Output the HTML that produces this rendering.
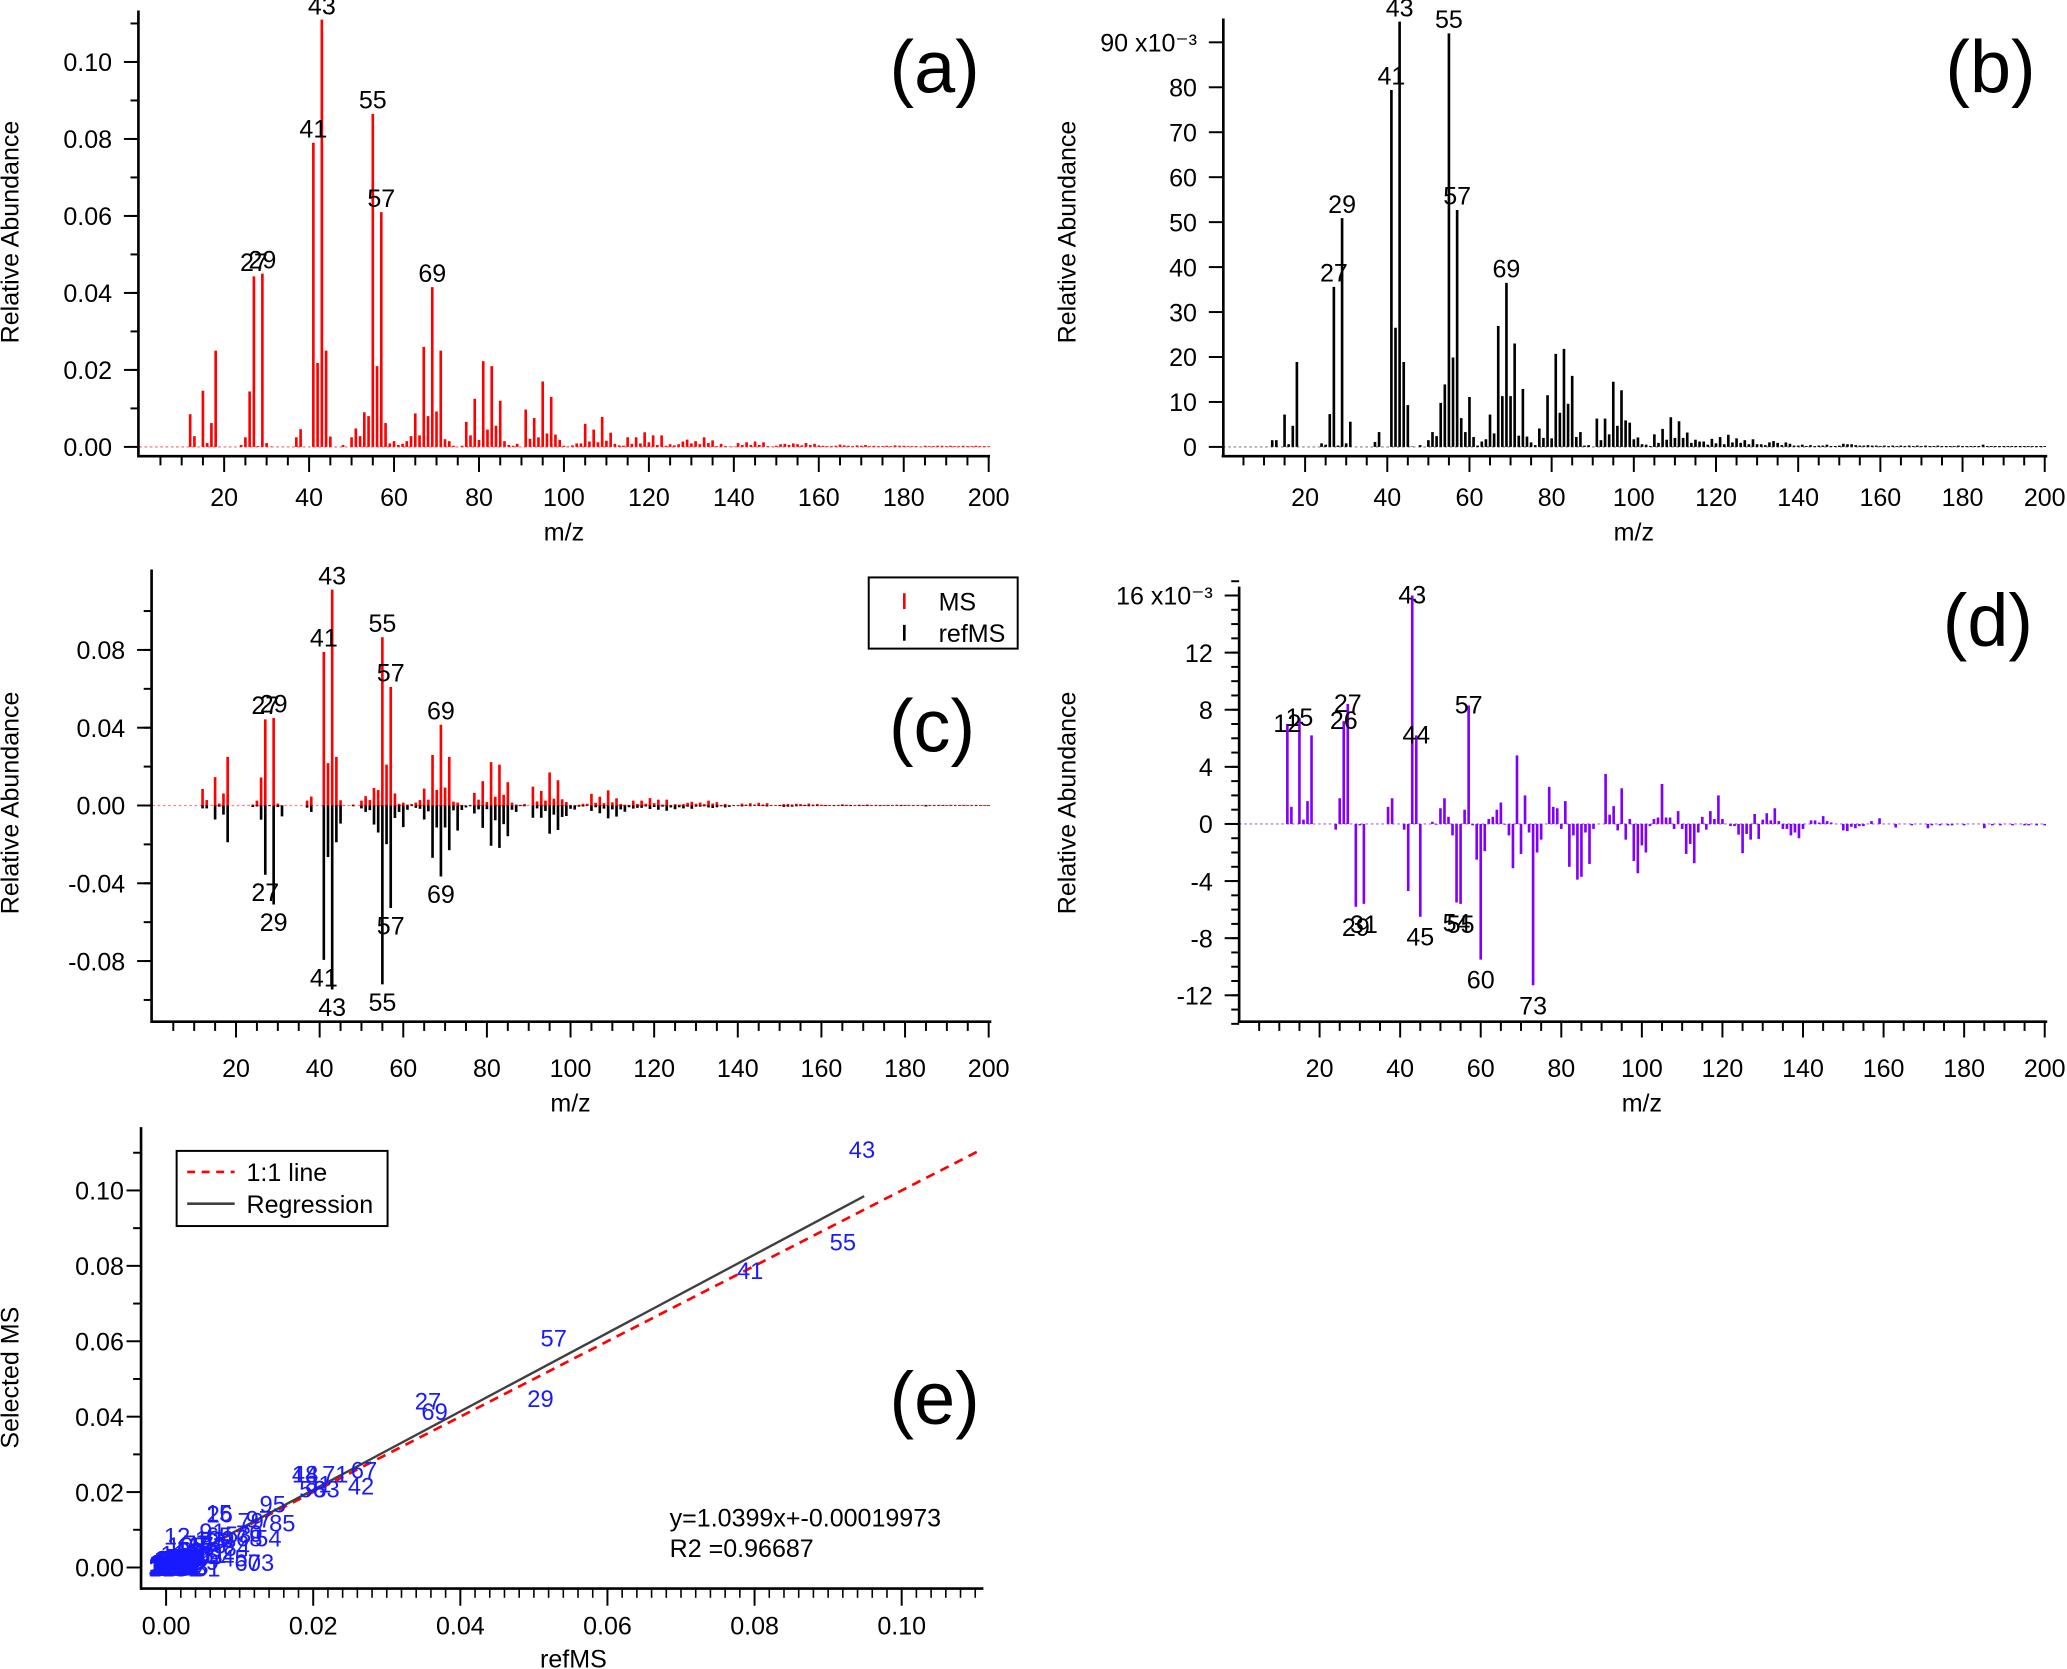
<!DOCTYPE html>
<html><head><meta charset="utf-8"><style>
html,body{margin:0;padding:0;background:#fff;}
svg{display:block;}
text{font-family:"Liberation Sans Narrow","Liberation Sans",sans-serif;}
.t{font-family:"Liberation Sans",sans-serif;}
</style></head><body>
<svg id="fig" width="2067" height="1669" viewBox="0 0 1568 1266" preserveAspectRatio="none" xmlns="http://www.w3.org/2000/svg"></svg>
<script>
// ---- data (x1e-3), m/z 12..200 ----
const mzStart = 12, mzEnd = 200;
const selMS = [8.5,2.8,0,14.6,1.0,6.2,25,0,0,0,
0,0,0.5,2.5,14.4,44.3,0.2,45,1.0,0.1,
0,0,0,0,0,2.5,4.6,0,0,79,
21.8,111,25,2.7,0,0,0.5,0,2.5,4.8,
2.8,9.0,8.0,86.5,21,61,6.2,0.9,1.5,0.5,
0.8,1.5,2.8,8.7,3.0,26,8.0,41.5,9.2,25,
2.0,1.5,0.3,0,0.3,6.5,3.0,12.5,1.8,22.3,
4.5,21,5.5,12,1.5,0.5,0.3,0.8,0,9.7,
2.1,7.5,2.5,17,3.5,13,3.2,1.8,0.3,0.1,
0.4,0.9,0.9,6,1.4,4.5,1.2,7.8,1.6,3.7,
0.8,0.4,0.3,2.5,0.8,2.5,0.9,3.8,1.2,3.0,
0.5,3.0,0.3,0.7,0.4,0.7,1.4,1.9,0.9,1.5,
0.7,2.5,1.0,1.7,0.2,0.8,0.2,0.1,0.1,1.0,
0.5,1.2,0.5,1.4,0.5,1.2,0.2,0.1,0.3,0.7,
0.8,0.5,0.9,0.7,0.4,1.0,0.5,0.8,0.4,0.3,
0.2,0.2,0.3,0.6,0.4,0.3,0.2,0.4,0.3,0.5,
0.2,0.3,0.2,0.2,0.3,0.2,0.4,0.3,0.3,0.2,
0.2,0.2,0.1,0.3,0.2,0.2,0.3,0.3,0.2,0.3,
0.2,0.2,0.3,0.2,0.2,0.3,0.2,0.2,0.2];
const refMS = [1.5,1.5,0,7.2,0.6,4.7,18.9,0,0,0,
0,0,0.8,0.5,7.3,35.6,0.3,50.9,0.8,5.6,
0,0,0,0,0,1.1,3.3,0,0,79.4,
26.5,94.6,18.9,9.3,0.1,0,0.4,0,1.5,3.3,
2.4,9.8,13.9,92,19.9,52.7,6.4,3.3,11.1,2.2,
0.3,1.2,1.7,7.2,3.0,26.9,11.3,36.5,11.3,23,
2.5,12.9,2.3,1.0,0.4,4.1,2.0,11.5,1.9,20.7,
7.6,21.8,9.6,15.8,2.2,3.3,0.3,0.4,0,6.3,
1.5,6.3,2.8,14.5,4.7,12.6,5.9,5.4,1.7,2.1,
0.6,0.5,0.2,2.8,0.9,4.0,1.6,6.6,2.0,5.7,
2.0,3.2,0.9,1.6,1.2,1.2,0.5,1.8,0.8,2.2,
0.6,2.7,1.0,1.9,0.9,1.5,0.6,1.7,0.6,0.6,
0.4,1.0,1.3,0.9,0.4,1.0,0.7,0.3,0.3,0.5,
0.2,0.4,0.2,0.3,0.3,0.5,0.2,0.2,0.3,0.7,
0.6,0.6,0.4,0.3,0.3,0.4,0.3,0.3,0.2,0.3,
0.2,0.3,0.2,0.3,0.2,0.3,0.2,0.3,0.2,0.3,
0.2,0.2,0.3,0.2,0.2,0.2,0.2,0.3,0.2,0.2,
0.2,0.2,0.2,0.5,0.2,0.2,0.2,0.2,0.2,0.2,
0.2,0.2,0.2,0.2,0.2,0.2,0.2,0.2,0.2];
const diffMS = [7.0,1.2,0,7.4,0.3,1.6,6.2,0,0,0,
0,0,-0.4,1.8,7.2,8.4,0,-5.8,-0.1,-5.6,
0,0,0,0,0,1.2,1.8,0,0,-0.4,
-4.7,16,6.2,-6.5,0,0,0.15,-0.05,1.1,1.8,
0.5,-0.8,-5.5,-5.6,1.0,8.3,-0.1,-2.5,-9.5,-1.9,
0.35,0.5,1.0,1.5,-0.05,-0.8,-3.1,4.8,-2.1,2.0,
-0.6,-11.3,-2.0,-1.1,0,2.6,1.2,1.1,-0.35,1.6,
-3.0,-0.8,-3.9,-3.7,-0.6,-2.8,-0.35,0,0,3.5,
0.65,1.25,-0.45,2.5,-1.1,0.35,-2.6,-3.45,-1.5,-2.0,
-0.15,0.35,0.45,2.8,0.45,0.45,-0.35,0.9,-0.35,-2.1,
-1.4,-2.75,-0.6,0.5,-0.4,0.9,0.35,2.0,0.35,0,
-0.15,-0.15,-0.75,-2.05,-0.7,-1.1,0.7,-1.05,0.3,0.75,
0.25,1.1,0.2,-0.35,-0.35,-0.8,-0.6,-1.0,-0.35,0,
0.25,0.25,0.1,0.55,0.2,0.1,0,0,-0.45,-0.5,
-0.2,-0.3,-0.15,-0.15,0,0.2,0,0.4,0,0,
0,-0.25,0,0,0,-0.1,0,0,0,-0.3,
-0.1,0,-0.1,0,-0.1,-0.1,0,0,-0.1,0,
0,0,0,-0.3,0,-0.1,0,-0.1,0,0,
-0.1,0,0,-0.1,-0.1,0,-0.1,0,-0.1];
const peakLabels = [27,29,41,43,55,57,69];
const diffPosLabels = [12,15,26,27,43,44,57];
const diffNegLabels = [29,31,45,54,55,60,73];
const xTickLabels = [20,40,60,80,100,120,140,160,180,200];
const yTicksA = ["0.00","0.02","0.04","0.06","0.08","0.10"];
const yTicksB = [0,10,20,30,40,50,60,70,80,90];
const yTicksC = ["-0.08","-0.04","0.00","0.04","0.08"];
const yTicksD = [-12,-8,-4,0,4,8,12,16];
const yTicksE = ["0.00","0.02","0.04","0.06","0.08","0.10"];
const xTicksE = ["0.00","0.02","0.04","0.06","0.08","0.10"];
const regSlope = 1.0399, regIntercept = -0.00019973;

const NS = "http://www.w3.org/2000/svg";
const svg = document.getElementById('fig');
function el(tag, attrs, parent, txt){
  const e = document.createElementNS(NS, tag);
  for (const k in attrs) e.setAttribute(k, attrs[k]);
  if (txt !== undefined) e.textContent = txt;
  (parent || svg).appendChild(e);
  return e;
}
function grp(name){
  const g = el('g', {});
  
  
  return g;
}
const mzs = [];
for (let m = mzStart; m <= mzEnd; m++) mzs.push(m);
function val(arr, m){ return arr[m - mzStart]; }

function xAxisMZ(g, X, yLine, xEnd, labY, titY){
  el('line', {x1:X(0)-1, y1:yLine, x2:xEnd, y2:yLine, stroke:'#000','stroke-width':2}, g);
  for (let m = 5; m <= 200; m += 5){
    const major = m % 20 === 0;
    el('line', {x1:X(m), y1:yLine, x2:X(m), y2:yLine + (major?12:7), stroke:'#000','stroke-width':1.5}, g);
  }
  xTickLabels.forEach(v=>{
    const t = el('text', {x:X(v), y:labY, 'font-size':19, 'text-anchor':'middle'}, g, String(v));
    
    
  });
  const tt = el('text', {x:X(100)+(xEnd>1000?0:0), y:titY, 'font-size':19, 'text-anchor':'middle'}, g, 'm/z');
  
  
}
function yAxis(g, xAxisX, yTop, yBot, ticks, Y, labels, minorStep, minorFrom, minorTo){
  el('line', {x1:xAxisX, y1:yTop, x2:xAxisX, y2:yBot, stroke:'#000','stroke-width':2}, g);
  if (minorStep){
    for (let v = minorFrom; v <= minorTo + 1e-9; v += minorStep){
      el('line', {x1:xAxisX-6, y1:Y(v), x2:xAxisX, y2:Y(v), stroke:'#000','stroke-width':1.5}, g);
    }
  }
  ticks.forEach((v,i)=>{
    el('line', {x1:xAxisX-11, y1:Y(v), x2:xAxisX, y2:Y(v), stroke:'#000','stroke-width':1.5}, g);
    const t = el('text', {x:xAxisX-20, y:Y(v)+7, 'font-size':19, 'text-anchor':'end'}, g, labels[i]);
    
    
  });
}
function yTitle(g, x, y, text){
  const t = el('text', {x:x, y:y, 'font-size':19, 'text-anchor':'middle', transform:`rotate(-90 ${x} ${y})`, class:'t'}, g, text);
  
  
}
function panelLetter(g, x, y, s){
  const t = el('text', {x:x, y:y, 'font-size':56, 'text-anchor':'middle', class:'t'}, g, s);
  
  
}
function bars(g, X, Y, arr, scale, color, sign){
  mzs.forEach(m=>{
    const v = val(arr, m) * scale * sign;
    if (v === 0) return;
    const b = el('line', {x1:X(m), y1:Y(0), x2:X(m), y2:Y(v), stroke:color, 'stroke-width':2}, g);
    
    
  });
}
function baseline(g, X, Y, color){
  el('line', {x1:X(0), y1:Y(0), x2:X(200), y2:Y(0), stroke:color, 'stroke-width':1, 'stroke-dasharray':'2,2'}, g);
}
function peakLabel(g, x, y, s){
  const t = el('text', {x:x, y:y, 'font-size':19, 'text-anchor':'middle'}, g, String(s));
  
  
}

// ---- Panel (a) ----
(function(){
  const g = grp('panel-a');
  const X = m => 105.6 + m*3.222;
  const Y = v => 339 - v*2920;
  baseline(g, X, Y, '#ff8080');
  bars(g, X, Y, selMS, 1e-3, '#ff0000', 1);
  yAxis(g, 105, 8, 347, [0,0.02,0.04,0.06,0.08,0.10], Y, yTicksA, 0.01, 0.01, 0.11);
  xAxisMZ(g, X, 346, 751, 384, 410);
  peakLabels.forEach(m=>peakLabel(g, X(m), Y(val(selMS,m)*1e-3)-4, m));
  yTitle(g, 14, 176, 'Relative Abundance');
  panelLetter(g, 709, 70, '(a)');
})();

// ---- Panel (b) ----
(function(){
  const g = grp('panel-b');
  const X = m => 927.7 + m*3.117;
  const Y = v => 339 - v*3.41;
  baseline(g, X, Y, '#999');
  bars(g, X, Y, refMS, 1, '#000', 1);
  yAxis(g, 928, 14, 347, yTicksB, Y, yTicksB.map((v,i)=> i===yTicksB.length-1 ? '90 x10\u207B\u00B3' : String(v)), null);
  xAxisMZ(g, X, 346, 1553, 384, 410);
  peakLabels.forEach(m=>peakLabel(g, X(m), Y(val(refMS,m))-4, m));
  yTitle(g, 816, 176, 'Relative Abundance');
  panelLetter(g, 1510, 70, '(b)');
})();

// ---- Panel (c) ----
(function(){
  const g = grp('panel-c');
  const X = m => 115.6 + m*3.172;
  const Y = v => 611 - v*1475;
  baseline(g, X, Y, '#ff8080');
  bars(g, X, Y, selMS, 1e-3, '#ff0000', 1);
  bars(g, X, Y, refMS, 1e-3, '#000', -1);
  yAxis(g, 115, 432, 776, [-0.08,-0.04,0,0.04,0.08], Y, yTicksC, 0.02, -0.10, 0.10);
  xAxisMZ(g, X, 775, 752, 817, 843);
  peakLabels.forEach(m=>peakLabel(g, X(m), Y(val(selMS,m)*1e-3)-4, m));
  peakLabels.forEach(m=>peakLabel(g, X(m), Y(-val(refMS,m)*1e-3)+20, m));
  yTitle(g, 14, 609, 'Relative Abundance');
  panelLetter(g, 707, 570, '(c)');
  const lg = grp('legend-c');
  el('rect', {x:659, y:438, width:113, height:54, fill:'#fff', stroke:'#000', 'stroke-width':1.5}, lg);
  el('line', {x1:686, y1:450, x2:686, y2:462, stroke:'#ff0000','stroke-width':2}, lg);
  const l1 = el('text', {x:712, y:463, 'font-size':19}, lg, 'MS');
  
  
  el('line', {x1:686, y1:474, x2:686, y2:486, stroke:'#000','stroke-width':2}, lg);
  const l2 = el('text', {x:712, y:487, 'font-size':19}, lg, 'refMS');
  
  
})();

// ---- Panel (d) ----
(function(){
  const g = grp('panel-d');
  const X = m => 939.9 + m*3.056;
  const Y = v => 625 - v*10.83;
  baseline(g, X, Y, '#b080ff');
  bars(g, X, Y, diffMS, 1, '#7f00ff', 1);
  yAxis(g, 940, 445, 776, yTicksD, Y, yTicksD.map((v,i)=> i===yTicksD.length-1 ? '16 x10\u207B\u00B3' : String(v)), 1, -14, 17);
  xAxisMZ(g, X, 775, 1553, 817, 843);
  diffPosLabels.forEach(m=>peakLabel(g, X(m), Y(val(diffMS,m))+6, m));
  diffNegLabels.forEach(m=>peakLabel(g, X(m), Y(val(diffMS,m))+22, m));
  yTitle(g, 816, 609, 'Relative Abundance');
  panelLetter(g, 1508, 490, '(d)');
})();

// ---- Panel (e) ----
(function(){
  const g = grp('panel-e');
  const X = v => 126 + v*5580;
  const Y = v => 1189 - v*2860;
  // axes
  el('line', {x1:107, y1:855, x2:107, y2:1206, stroke:'#000','stroke-width':2}, g);
  el('line', {x1:107, y1:1205, x2:746, y2:1205, stroke:'#000','stroke-width':2}, g);
  [0,0.02,0.04,0.06,0.08,0.10].forEach((v,i)=>{
    el('line', {x1:96, y1:Y(v), x2:107, y2:Y(v), stroke:'#000','stroke-width':1.5}, g);
    const t = el('text', {x:94, y:Y(v)+7, 'font-size':19, 'text-anchor':'end'}, g, yTicksE[i]);
    
    
    el('line', {x1:X(v), y1:1205, x2:X(v), y2:1218, stroke:'#000','stroke-width':1.5}, g);
    const tx = el('text', {x:X(v), y:1240, 'font-size':19, 'text-anchor':'middle'}, g, xTicksE[i]);
    
    
  });
  for (let v = 0.01; v <= 0.111; v += 0.02){
    el('line', {x1:101, y1:Y(v), x2:107, y2:Y(v), stroke:'#000','stroke-width':1.5}, g);
  }
  for (let v = 0.002; v <= 0.111; v += 0.002){
    if (Math.abs(v/0.02 - Math.round(v/0.02)) < 1e-6) continue;
    el('line', {x1:X(v), y1:1205, x2:X(v), y2:1212, stroke:'#000','stroke-width':1.2}, g);
  }
  // 1:1 line and regression
  const one = el('line', {x1:X(0), y1:Y(0), x2:X(0.111), y2:Y(0.111), stroke:'#ff0000','stroke-width':2,'stroke-dasharray':'7,5'}, g);
  
  
  const reg = el('line', {x1:X(0), y1:Y(regIntercept), x2:X(0.0949), y2:Y(regSlope*0.0949+regIntercept), stroke:'#404040','stroke-width':1.8}, g);
  
  
  // scatter labels
  mzs.forEach(m=>{
    const a = val(selMS,m), b = val(refMS,m);
    if (a < 0.3 && b < 0.3) return;
    const t = el('text', {x:X(b*1e-3), y:Y(a*1e-3)+7, 'font-size':18, 'text-anchor':'middle', fill:'#1a1aff'}, g, String(m));
    
    
  });
  // legend
  const lg = grp('legend-e');
  el('rect', {x:134, y:873, width:160, height:57, fill:'#fff', stroke:'#000', 'stroke-width':1.5}, lg);
  el('line', {x1:142, y1:889, x2:178, y2:889, stroke:'#ff0000','stroke-width':2,'stroke-dasharray':'6,5'}, lg);
  const e1 = el('text', {x:187, y:896, 'font-size':19}, lg, '1:1 line');
  
  
  el('line', {x1:142, y1:913, x2:178, y2:913, stroke:'#404040','stroke-width':2}, lg);
  const e2 = el('text', {x:187, y:920, 'font-size':19}, lg, 'Regression');
  
  
  const eq = el('text', {x:508, y:1158, 'font-size':19}, g, 'y=1.0399x+-0.00019973');
  
  
  const r2 = el('text', {x:508, y:1181, 'font-size':19}, g, 'R2 =0.96687');
  
  
  const xt = el('text', {x:435, y:1265, 'font-size':19, 'text-anchor':'middle'}, g, 'refMS');
  
  
  yTitle(g, 14, 1045, 'Selected MS');
  panelLetter(g, 709, 1080, '(e)');
})();
</script>
</body></html>
